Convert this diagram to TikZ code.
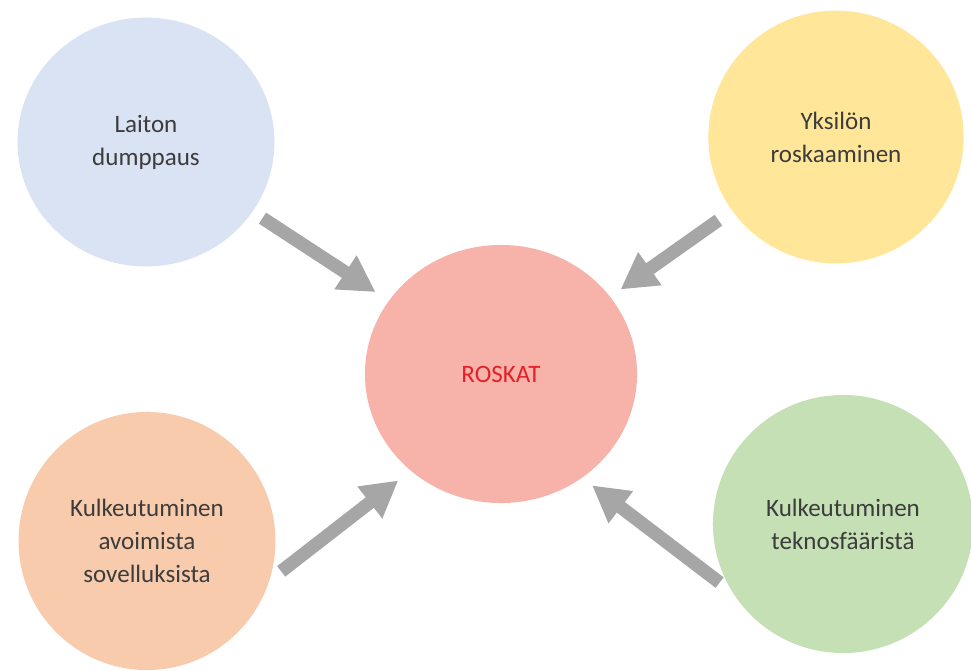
\documentclass[tikz,border=0pt]{standalone}
\usepackage{fontspec}
\setmainfont{Carlito}
\usepackage{tikz}
\usetikzlibrary{shapes.geometric, arrows.meta, positioning}
\definecolor{myblue}{RGB}{218,227,243}
\definecolor{myyellow}{RGB}{255,230,153}
\definecolor{mypink}{RGB}{247,178,170}
\definecolor{myorange}{RGB}{248,203,173}
\definecolor{mygreen}{RGB}{197,224,180}
\definecolor{mygray}{RGB}{166,166,166}
\definecolor{mytext}{RGB}{60,60,60}
\definecolor{myred}{RGB}{228,32,40}
\tikzset{
  blob/.style={ellipse, draw=none, inner sep=0pt, outer sep=0pt,
    align=center, text=mytext, font=\fontsize{17.8}{23.5}\selectfont},
  fatarrow/.style={-{Triangle[length=0.9cm, width=0.95cm]},
    line width=0.33cm, color=mygray}
}

\begin{document}
\begin{tikzpicture}[x=0.025cm, y=-0.025cm]
  \useasboundingbox[fill=white] (0,0) rectangle (971,670);
  % Causes
  \node[blob, fill=myblue, minimum width=6.42cm, minimum height=6.22cm] (laiton) at (146,142) {Laiton\\dumppaus};
  \node[blob, fill=myyellow, minimum width=6.38cm, minimum height=6.32cm] (yksilo) at (836,137) {Yksilön\\roskaaminen};
  \node[blob, fill=myorange, minimum width=6.42cm, minimum height=6.45cm] (avoin) at (147,541) {Kulkeutuminen\\avoimista\\sovelluksista};
  \node[blob, fill=mygreen, minimum width=6.5cm, minimum height=6.45cm] (tekno) at (843,524) {Kulkeutuminen\\teknosfääristä};
  % Centre
  \node[blob, fill=mypink, text=myred, minimum width=6.8cm, minimum height=6.45cm] (roskat) at (501,374) {ROSKAT};
  % Arrows
  \draw[fatarrow, shorten <=0.3cm, shorten >=0.4cm] (laiton) -- (roskat);
  \draw[fatarrow, shorten <=0.42cm, shorten >=0.32cm] (yksilo) -- (roskat);
  \draw[fatarrow, shorten <=0.38cm, shorten >=0.4cm] (avoin.-18) -- (roskat.227);
  \draw[fatarrow, shorten <=0.42cm, shorten >=0.32cm] (tekno.212) -- (roskat.-52);
\end{tikzpicture}
\end{document}
